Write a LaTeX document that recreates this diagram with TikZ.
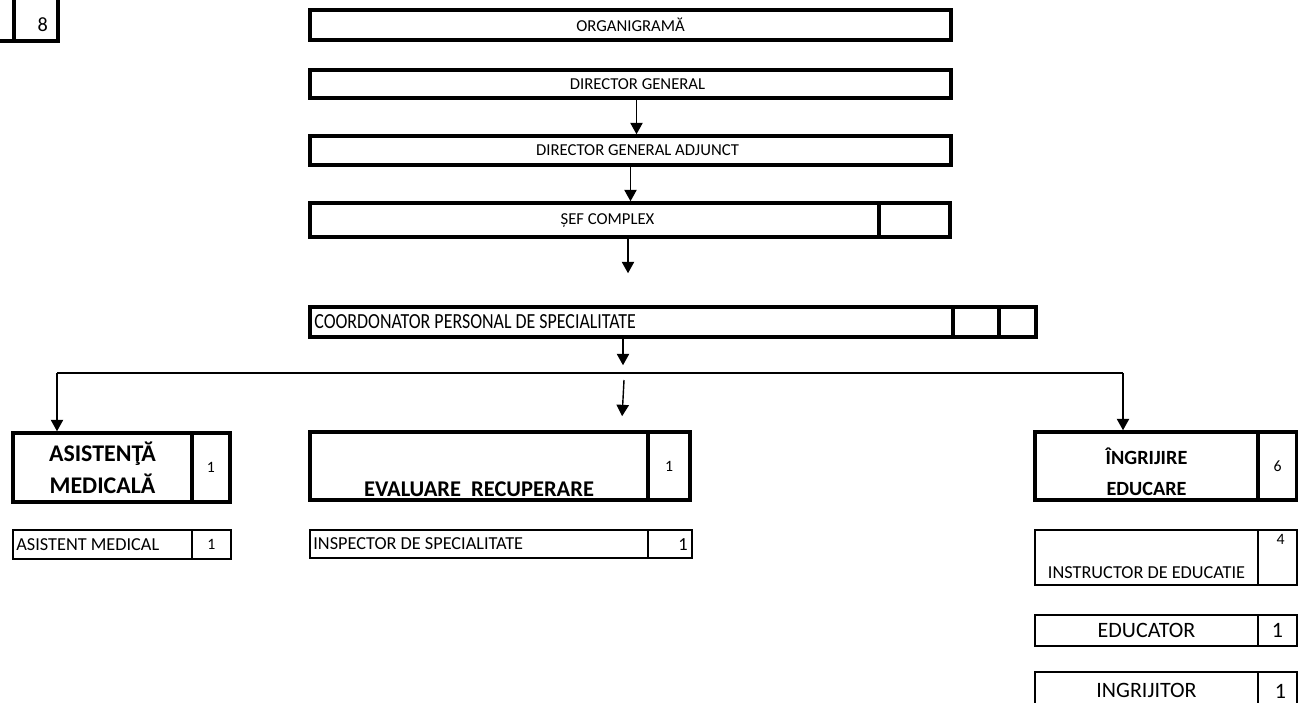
\documentclass[tikz,border=0pt]{standalone}
\usepackage{fontspec}
\setmainfont{Carlito}
\usetikzlibrary{calc,arrows.meta}

\begin{document}
\begin{tikzpicture}[x=0.02cm, y=-0.02cm,
		cell/.style 2 args={draw, anchor=north west, inner sep=0pt, outer sep=0pt, minimum width=#1*0.02cm, minimum height=#2*0.02cm},
		boldframe/.style={line width=2.4pt},
		thinframe/.style={line width=1.3pt},
		arr/.style={line width=0.8pt, shorten >=1pt, -{Triangle[width=7pt,length=6.5pt]}},
		topfont/.style={font=\fontsize{9.5}{11}\selectfont},
		stafffont/.style={font=\fontsize{10.4}{12}\selectfont, inner xsep=0pt},
		deptfont/.style={font=\bfseries\fontsize{12.8}{18}\selectfont, align=center},
		smallnum/.style={font=\fontsize{9}{11}\selectfont},
		bigfont/.style={font=\fontsize{12.5}{14}\selectfont}]
			%%%%% START %%%%%
			\useasboundingbox (0,0) rectangle (1298,703);
			
			% cut off box top left
			\node[cell={54}{71}, boldframe] (eightl) at (-40,-30) {};
			\node[cell={44}{71}, boldframe] (eightr) at (eightl.north east) {};
			\node[anchor=east, font=\fontsize{11.5}{13}\selectfont] (eight) at ($(eightr.south east)+(-4,-16)$) {8};
			
			% head of the chart
			\node[cell={641}{30}, boldframe, topfont] (org) at (310,10) {ORGANIGRAMĂ};
			\node[cell={641}{28}, boldframe] (dg) at (310,70) {};
			\node[topfont] (dgtxt) at ($(dg.center)+(7,0)$) {DIRECTOR GENERAL};
			\node[cell={641}{29}, boldframe] (dga) at (310,136) {};
			\node[topfont] (dgatxt) at ($(dga.center)+(7,0)$) {DIRECTOR GENERAL ADJUNCT};
			\node[cell={569}{34}, boldframe] (sef) at (310,203) {};
			\node[cell={71}{34}, boldframe] (sefnr) at (sef.north east) {};
			\node[topfont] (seftxt) at ($(sef.center)+(13,1)$) {ȘEF COMPLEX};
			
			\node[cell={643}{30}, boldframe] (coord) at (310,307) {};
			\node[cell={46}{30}, boldframe] (coordnr) at (coord.north east) {};
			\node[cell={37}{30}, boldframe] (coordnrb) at (coordnr.north east) {};
			\node[anchor=west, inner xsep=0pt, font=\fontsize{10.2}{12}\selectfont] (coordtxt) at ($(coord.west)+(4,0)$) {\scalebox{1}[1.2]{COORDONATOR PERSONAL DE SPECIALITATE}};
			
			% departments
			\node[cell={179}{69}, boldframe, deptfont, font=\bfseries\fontsize{13.6}{18}\selectfont] (asist) at (13,433) {ASISTENŢĂ\\MEDICALĂ};
			\node[cell={38}{69}, boldframe, smallnum] (asistnr) at (asist.north east) {1};
			
			\node[cell={338}{68}, boldframe] (eval) at (310,432) {};
			\node[cell={42}{68}, boldframe, smallnum] (evalnr) at (eval.north east) {1};
			\node[deptfont] (evaltxt) at ($(eval.south)+(0,-11)$) {EVALUARE\ \ RECUPERARE};
			
			\node[cell={223}{68}, boldframe] (ingr) at (1035,432) {};
			\node[cell={39}{68}, boldframe, smallnum] (ingrnr) at (ingr.north east) {6};
			\node[font=\bfseries\fontsize{11.5}{17.5}\selectfont, align=center] (ingrtxt) at ($(ingr.center)+(0,6)$) {ÎNGRIJIRE\\EDUCARE};
			
			% staff
			\node[cell={179}{29}, thinframe] (asmed) at (13,530) {};
			\node[cell={39}{29}, thinframe, smallnum] (asmednr) at (asmed.north east) {1};
			\node[anchor=west, stafffont] (asmedtxt) at ($(asmed.west)+(3,0)$) {ASISTENT MEDICAL};
			
			\node[cell={338}{28}, thinframe] (insp) at (310,530) {};
			\node[cell={44}{28}, thinframe] (inspnr) at (insp.north east) {};
			\node[anchor=west, stafffont] (insptxt) at ($(insp.west)+(3,0)$) {INSPECTOR DE SPECIALITATE};
			\node[anchor=east, inner xsep=0pt, font=\fontsize{10.5}{12}\selectfont] (inspnum) at ($(inspnr.east)+(-4,1)$) {1};
			
			\node[cell={223}{55}, thinframe] (instr) at (1035,530) {};
			\node[cell={39}{55}, thinframe] (instrnr) at (instr.north east) {};
			\node[stafffont] (instrtxt) at ($(instr.south)+(0,-12)$) {INSTRUCTOR DE EDUCATIE};
			\node[smallnum] (instrnum) at ($(instrnr.north)+(3,9)$) {4};
			
			\node[cell={223}{31}, thinframe, bigfont] (educ) at (1035,615) {EDUCATOR};
			\node[cell={39}{31}, thinframe, bigfont] (educnr) at (educ.north east) {1};
			
			\node[cell={223}{50}, thinframe] (ingrij) at (1035,672) {};
			\node[cell={39}{50}, thinframe] (ingrijnr) at (ingrij.north east) {};
			\node[bigfont] (ingrijtxt) at ($(ingrij.north)+(0,18)$) {INGRIJITOR};
			\node[bigfont] (ingrijnum) at ($(ingrijnr.north)+(3,19)$) {1};
			
			% connectors
			\coordinate (sefend) at (628,275);
			\coordinate (coordend) at (623,367);
			\coordinate (busl) at (57,373);
			\coordinate (busr) at (1123,373);
			\coordinate (midtop) at (624,380);
			\coordinate (midend) at (622,418);
			
			\draw[arr] ($(dg.south)+(6,0)$) -- ($(dga.north)+(6,0)$);
			\draw[arr] (dga.south) -- (dga.south |- sef.north);
			\draw[arr] (sefend |- sef.south) -- (sefend);
			\draw[arr] (coordend |- coord.south) -- (coordend);
			\draw[line width=0.8pt] (busl) -- (busr);
			\draw[arr] (busl) -- (busl |- asist.north);
			\draw[arr] (midtop) -- (midend);
			\draw[arr] (busr) -- (busr |- ingr.north);
			%%%%% END %%%%%
		\end{tikzpicture}
\end{document}
